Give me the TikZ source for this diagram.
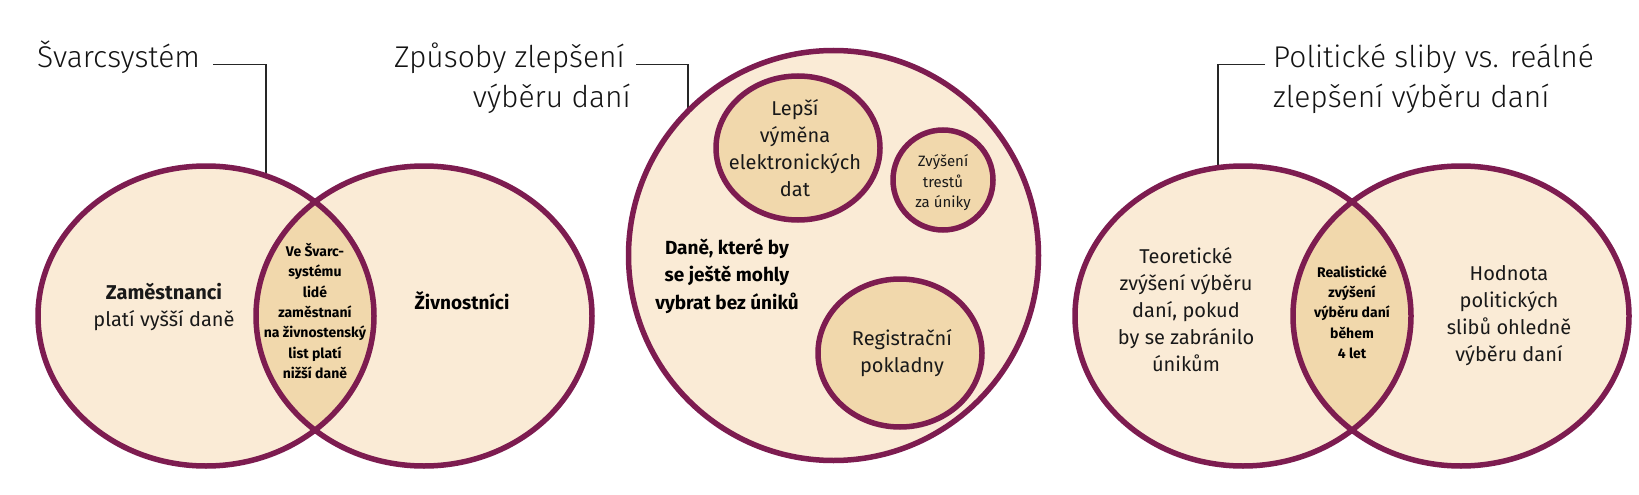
\documentclass[tikz,border=0pt]{standalone}
\usepackage{fontspec}
\setmainfont{Fira Sans}
\newfontfamily\lightfont{Fira Sans Light}
\usetikzlibrary{backgrounds}
\definecolor{plum}{RGB}{125,28,80}
\definecolor{cream}{RGB}{250,235,214}
\definecolor{lensc}{RGB}{241,216,172}
\begin{document}
\begin{tikzpicture}[x=1pt,y=-1pt,
  rim/.style={draw=plum,line width=5.5pt},
  title/.style={font=\lightfont\fontsize{30}{40}\selectfont, inner sep=0pt, text=black!92},
  conn/.style={draw=black!85,line width=1.4pt},
  txt/.style={font=\fontsize{20}{27}\selectfont, align=center, inner sep=0pt, text=black!90},
  txtb/.style={font=\bfseries\fontsize{19}{27.5}\selectfont, align=center, inner sep=0pt},
  txts/.style={font=\fontsize{15}{20.5}\selectfont, align=center, inner sep=0pt, text=black!90},
  lenstxt/.style={font=\bfseries\fontsize{14}{20.3}\selectfont, align=center, inner sep=0pt},
]
\useasboundingbox (0,0) rectangle (1639,495);
\fill[white] (0,0) rectangle (1639,495);

% ---------- titles and connectors (behind the shapes)
\node[title, anchor=base west] (t1) at (37,67) {Švarcsystém};
\coordinate (k1) at (266,220);
\draw[conn] ([xshift=13pt]t1.mid east) -| (k1);

\node[title, anchor=base east] (t2a) at (625,67) {Způsoby zlepšení};
\node[title, anchor=base east] (t2b) at (631,107) {výběru daní};
\coordinate (k2) at (688,140);
\draw[conn] ([xshift=11pt]t2a.mid east) -| (k2);

\node[title, anchor=base west] (t3a) at (1273,67) {Politické sliby vs. reálné};
\node[title, anchor=base west] (t3b) at (1273,107) {zlepšení výběru daní};
\coordinate (k3) at (1218,220);
\draw[conn] ([xshift=-8pt]t3a.mid west) -| (k3);

% ---------- left Venn
\coordinate (A1) at (206,316);
\coordinate (A2) at (424,316);
\fill[cream] (A1) ellipse [x radius=168, y radius=150];
\fill[cream] (A2) ellipse [x radius=168, y radius=150];
\begin{scope}
  \clip (A1) ellipse [x radius=168, y radius=150];
  \fill[lensc] (A2) ellipse [x radius=168, y radius=150];
\end{scope}
\draw[rim] (A1) ellipse [x radius=168, y radius=150];
\draw[rim] (A2) ellipse [x radius=168, y radius=150];

% ---------- middle
\coordinate (M) at (833.5,255.5);
\filldraw[rim, fill=cream] (M) circle [radius=205];
\coordinate (M1) at (798,148);
\coordinate (M2) at (943,180);
\coordinate (M3) at (900,353);
\filldraw[rim, fill=lensc] (M1) ellipse [x radius=82, y radius=72];
\filldraw[rim, fill=lensc] (M2) circle [radius=50];
\filldraw[rim, fill=lensc] (M3) ellipse [x radius=82, y radius=74];

% ---------- right Venn
\coordinate (B1) at (1243,316);
\coordinate (B2) at (1461,316);
\fill[cream] (B1) ellipse [x radius=168, y radius=150];
\fill[cream] (B2) ellipse [x radius=168, y radius=150];
\begin{scope}
  \clip (B1) ellipse [x radius=168, y radius=150];
  \fill[lensc] (B2) ellipse [x radius=168, y radius=150];
\end{scope}
\draw[rim] (B1) ellipse [x radius=168, y radius=150];
\draw[rim] (B2) ellipse [x radius=168, y radius=150];

% ---------- texts
\node[txt] (zam) at (164,307) {\textbf{Zaměstnanci}\\platí vyšší daně};
\node[lenstxt] (svl) at (315,311) {Ve Švarc-\\systému\\lidé\\zaměstnaní\\na živnostenský\\list platí\\nižší daně};
\node[txtb] (ziv) at (462,301) {Živnostníci};

\node[txt] (lep) at (795,148) {Lepší\\výměna\\elektronických\\dat};
\node[txts] (zvy) at (943,183) {Zvýšení\\trestů\\za úniky};
\node[txtb] (dan) at (727,276) {Daně, které by\\se ještě mohly\\vybrat bez úniků};
\node[txt] (reg) at (902,353) {Registrační\\pokladny};

\node[txt] (teo) at (1186,310) {Teoretické\\zvýšení výběru\\daní, pokud\\by se zabránilo\\únikům};
\node[lenstxt] (rea) at (1352,312) {Realistické\\zvýšení\\výběru daní\\během\\4 let};
\node[txt] (hod) at (1509,316) {Hodnota\\politických\\slibů ohledně\\výběru daní};
\end{tikzpicture}
\end{document}
